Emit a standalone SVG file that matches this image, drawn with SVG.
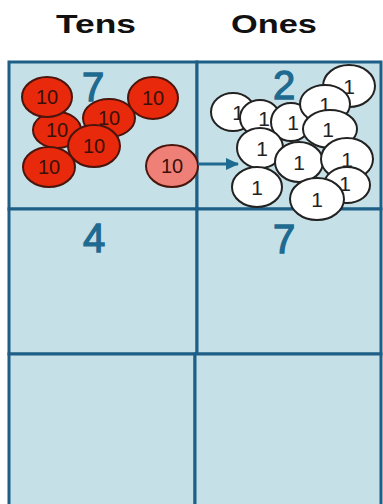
<svg xmlns="http://www.w3.org/2000/svg" width="383" height="504" viewBox="0 0 383 504">
<defs>
<style>
.hdr{font-family:"Liberation Sans",Arial,sans-serif;font-weight:bold;font-size:25px;fill:#111;text-anchor:middle}
.dig{font-family:"Liberation Sans",Arial,sans-serif;font-size:40px;fill:#1e6a90;stroke:#1e6a90;stroke-width:1.3;text-anchor:middle}
.cell{fill:#c6e0e7;stroke:#1d5f86;stroke-width:3}
.ten{fill:#e8290c;stroke:#4a150c;stroke-width:2}
.tenp{fill:#ef8078;stroke:#4a150c;stroke-width:2}
.ten-t{font-family:"Liberation Sans",Arial,sans-serif;font-size:20px;fill:#3a1008;text-anchor:middle}
.one{fill:#fff;stroke:#222;stroke-width:2}
.one-t{font-family:"Liberation Sans",Arial,sans-serif;font-size:21px;fill:#222;text-anchor:middle}
</style>
<marker id="ah" markerWidth="13" markerHeight="12" refX="12" refY="6" orient="auto" markerUnits="userSpaceOnUse" viewBox="0 0 13 12">
<path d="M0,0 L13,6 L0,12 Z" fill="#1e6a90"/>
</marker>
</defs>
<rect width="383" height="504" fill="#fff"/>
<g id="headers">
<text class="hdr" x="96" y="33" textLength="80" lengthAdjust="spacingAndGlyphs">Tens</text>
<text class="hdr" x="274" y="33" textLength="86" lengthAdjust="spacingAndGlyphs">Ones</text>
</g>
<g id="grid">
<rect class="cell" x="9" y="62" width="188" height="147"/>
<rect class="cell" x="197" y="62" width="184" height="147"/>
<rect class="cell" x="9" y="209" width="188" height="145"/>
<rect class="cell" x="197" y="209" width="184" height="145"/>
<rect class="cell" x="9" y="354" width="186" height="160"/>
<rect class="cell" x="195" y="354" width="186" height="160"/>
</g>
<g id="digits">
<text class="dig" x="93" y="101">7</text>
<text class="dig" x="284" y="99">2</text>
<text class="dig" x="94" y="252">4</text>
<text class="dig" x="284" y="253">7</text>
</g>
<g id="tens">
<ellipse class="ten" cx="57" cy="130" rx="24" ry="18"/><text class="ten-t" x="57" y="137">10</text>
<ellipse class="ten" cx="47" cy="97" rx="25" ry="20"/><text class="ten-t" x="47" y="104">10</text>
<ellipse class="ten" cx="109" cy="118" rx="26" ry="19"/><text class="ten-t" x="109" y="125">10</text>
<ellipse class="ten" cx="153" cy="98" rx="25" ry="21"/><text class="ten-t" x="153" y="105">10</text>
<ellipse class="ten" cx="94" cy="146" rx="26" ry="21"/><text class="ten-t" x="94" y="153">10</text>
<ellipse class="ten" cx="49" cy="167" rx="26" ry="20"/><text class="ten-t" x="49" y="174">10</text>
</g>
<g id="moved-ten">
<ellipse class="tenp" cx="172" cy="166" rx="26" ry="21"/><text class="ten-t" x="172" y="173">10</text>
</g>
<g id="connectors">
<line x1="198" y1="164" x2="238" y2="164" stroke="#1e6a90" stroke-width="3" marker-end="url(#ah)"/>
</g>
<g id="ones">
<ellipse class="one" cx="349" cy="86" rx="26" ry="21"/><text class="one-t" x="349" y="94">1</text>
<ellipse class="one" cx="233" cy="112" rx="22" ry="19"/><text class="one-t" x="238" y="120">1</text>
<ellipse class="one" cx="260" cy="118" rx="20" ry="18"/><text class="one-t" x="264" y="126">1</text>
<ellipse class="one" cx="291" cy="122" rx="20" ry="19"/><text class="one-t" x="293" y="130">1</text>
<ellipse class="one" cx="325" cy="104" rx="25" ry="19"/><text class="one-t" x="325" y="112">1</text>
<ellipse class="one" cx="330" cy="129" rx="27" ry="19"/><text class="one-t" x="328" y="137">1</text>
<ellipse class="one" cx="260" cy="148" rx="23" ry="20"/><text class="one-t" x="262" y="156">1</text>
<ellipse class="one" cx="299" cy="162" rx="24" ry="20"/><text class="one-t" x="299" y="170">1</text>
<ellipse class="one" cx="347" cy="159" rx="26" ry="21"/><text class="one-t" x="347" y="167">1</text>
<ellipse class="one" cx="347" cy="185" rx="23" ry="18"/><text class="one-t" x="345" y="191">1</text>
<ellipse class="one" cx="257" cy="187" rx="25" ry="20"/><text class="one-t" x="257" y="195">1</text>
<ellipse class="one" cx="317" cy="199" rx="27" ry="21"/><text class="one-t" x="317" y="207">1</text>
</g>
</svg>
